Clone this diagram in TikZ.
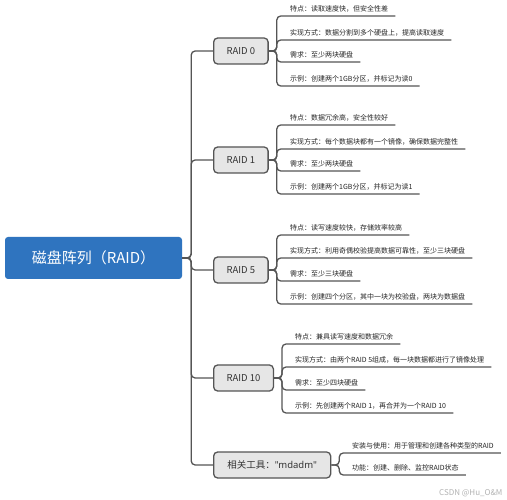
\documentclass[tikz,border=0pt]{standalone}
\usepackage{fontspec}
\setmainfont{Noto Sans CJK SC}
\newfontfamily\latinfont{Noto Sans}
\usepackage{tikz}

\definecolor{rootblue}{HTML}{2F74BF}
\definecolor{linegray}{HTML}{555555}
\definecolor{boxgray}{HTML}{E6E6E6}

\tikzset{
    rootbox/.style={rounded corners=3pt, fill=rootblue, text=white, minimum width=177pt, minimum height=42pt, font=\fontsize{15}{18}\selectfont},
    raidbox/.style={rounded corners=4pt, draw=linegray, line width=1.3pt, fill=boxgray, anchor=west, inner xsep=13pt, minimum height=26pt, font=\fontsize{9.5}{11}\selectfont, text=black!80},
    leaf/.style={anchor=south west, inner xsep=7pt, inner ysep=3.3pt, font=\fontsize{7}{8}\selectfont, text=black!85},
    conn/.style={draw=linegray, line width=1.3pt, rounded corners=4pt}
}

\begin{document}
\begin{tikzpicture}[x=1pt, y=-1pt]
            \useasboundingbox[fill=white] (0,0) rectangle (507,500);

            \node[rootbox] (root) at (93.5,258) {磁盘阵列（RAID）};

            \begin{scope}
                \node[raidbox] (r0) at (213,51) {RAID 0};
                \node[raidbox] (r1) at (213,160) {RAID 1};
                \node[raidbox] (r5) at (213,270) {RAID 5};
                \node[raidbox] (r10) at (213,378) {RAID 10};
                \node[raidbox, minimum width=117pt] (tool) at (213,465) {相关工具：{\latinfont "mdadm"}};
            \end{scope}

            \begin{scope}[every node/.style={leaf}]
                \node (l00) at (283,16) {特点：读取速度快，但安全性差};
                \node (l01) at (283,40) {实现方式：数据分割到多个硬盘上，提高读取速度};
                \node (l02) at (283,62) {需求：至少两块硬盘};
                \node (l03) at (283,86) {示例：创建两个1GB分区，并标记为读0};

                \node (l10) at (283,125) {特点：数据冗余高，安全性较好};
                \node (l11) at (283,149) {实现方式：每个数据块都有一个镜像，确保数据完整性};
                \node (l12) at (283,171) {需求：至少两块硬盘};
                \node (l13) at (283,194) {示例：创建两个1GB分区，并标记为读1};

                \node (l50) at (283,235) {特点：读写速度较快，存储效率较高};
                \node (l51) at (283,258) {实现方式：利用奇偶校验提高数据可靠性，至少三块硬盘};
                \node (l52) at (283,281) {需求：至少三块硬盘};
                \node (l53) at (283,304) {示例：创建四个分区，其中一块为校验盘，两块为数据盘};

                \node (l100) at (288,344) {特点：兼具读写速度和数据冗余};
                \node (l101) at (288,367) {实现方式：由两个RAID 5组成，每一块数据都进行了镜像处理};
                \node (l102) at (288,390) {需求：至少四块硬盘};
                \node (l103) at (288,413) {示例：先创建两个RAID 1，再合并为一个RAID 10};

                \node (lt0) at (345,453) {安装与使用：用于管理和创建各种类型的RAID};
                \node (lt1) at (345,475) {功能：创建、删除、监控RAID状态};
            \end{scope}

            \begin{scope}[every path/.style={conn}]
                \path (root.east) -- ++(9,0) |- (r0.west);
                \path (root.east) -- ++(9,0) |- (r1.west);
                \path (root.east) -- ++(9,0) |- (r5.west);
                \path (root.east) -- ++(9,0) |- (r10.west);
                \path (root.east) -- ++(9,0) |- (tool.west);

                \foreach \leafname in {l00,l01,l02,l03}
                    \path (r0.east) -- ++(8,0) |- (\leafname.south east);
                \foreach \leafname in {l10,l11,l12,l13}
                    \path (r1.east) -- ++(8,0) |- (\leafname.south east);
                \foreach \leafname in {l50,l51,l52,l53}
                    \path (r5.east) -- ++(8,0) |- (\leafname.south east);
                \foreach \leafname in {l100,l101,l102,l103}
                    \path (r10.east) -- ++(8,0) |- (\leafname.south east);
                \foreach \leafname in {lt0,lt1}
                    \path (tool.east) -- ++(8,0) |- (\leafname.south east);
            \end{scope}

            \node[text=black!30, font=\fontsize{8}{9}\selectfont, anchor=east] (mark) at (506,493) {CSDN @Hu\_O\&M};
        \end{tikzpicture}
\end{document}
